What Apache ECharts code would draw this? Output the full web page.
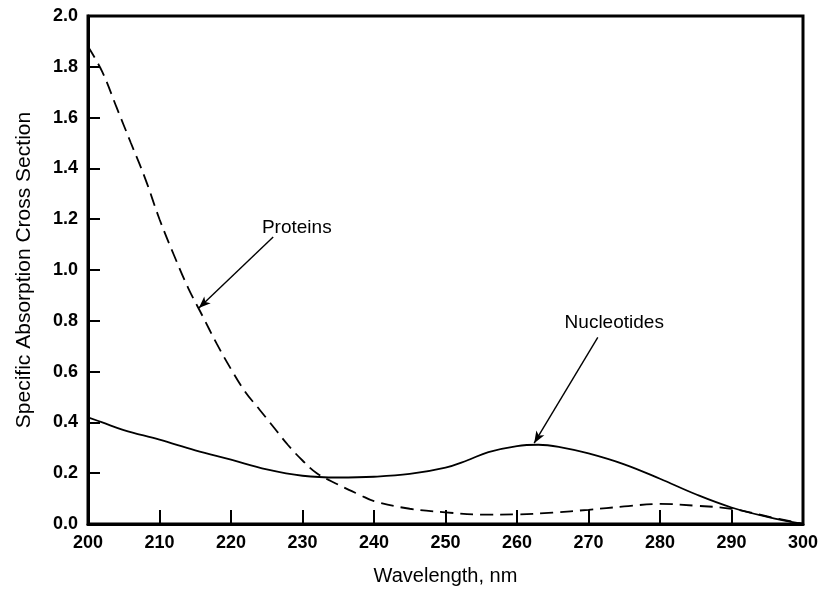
<!DOCTYPE html>
<html>
<head>
<meta charset="utf-8">
<script src="https://cdn.jsdelivr.net/npm/echarts@6/dist/echarts.min.js"></script>
<style>
  html, body { margin: 0; padding: 0; background: #fff; }
  #chart { width: 823px; height: 591px; }
</style>
</head>
<body>
<div id="chart"></div>
<script>
// wavelength (nm) and cross section values
var nucleotideNm = [200, 202, 205, 210, 215, 220, 225, 230, 235, 240, 245, 250, 253, 256, 260, 263, 266, 270, 275, 280, 285, 290, 295, 300]
var nucleotideVal = [0.42, 0.40, 0.37, 0.332, 0.29, 0.253, 0.215, 0.19, 0.183, 0.186, 0.197, 0.222, 0.25, 0.283, 0.307, 0.312, 0.303, 0.278, 0.235, 0.178, 0.117, 0.065, 0.028, 0.0]

var proteinNm = [200, 202, 204, 206, 208, 210, 212, 214, 216, 218, 220, 222, 224, 226, 228, 230, 232, 235, 238, 240, 245, 250, 255, 260, 265, 270, 275, 280, 285, 290, 295, 300]
var proteinVal = [1.88, 1.78, 1.64, 1.50, 1.36, 1.20, 1.06, 0.93, 0.82, 0.71, 0.61, 0.52, 0.45, 0.38, 0.31, 0.25, 0.20, 0.155, 0.115, 0.09, 0.06, 0.046, 0.037, 0.038, 0.045, 0.056, 0.069, 0.079, 0.072, 0.060, 0.030, 0.0]

// annotation arrows: [fromNm, fromVal, toNm, toVal]
var proteinArrow = [225.9, 1.13, 215.5, 0.85]
var nucleotideArrow = [271.3, 0.735, 262.4, 0.318]
var proteinLabel = [229.2, 1.168]
var nucleotideLabel = [273.6, 0.792]

function pairs(xs, ys) {
  return xs.map(function (x, i) { return [x, ys[i]] })
}

var font = 'Liberation Sans, Arial, sans-serif'
var chart = echarts.init(document.getElementById('chart'))

function arrow(a) {
  return {
    silent: true,
    symbol: ['none', 'arrow'],
    symbolSize: [7, 12],
    label: { show: false },
    lineStyle: { color: '#000', width: 1.4, type: 'solid' },
    data: [[{ coord: [a[0], a[1]] }, { coord: [a[2], a[3]] }]]
  }
}

chart.setOption({
  animation: false,
  grid: {
    left: 88,
    right: 20,
    top: 16,
    bottom: 66,
    show: true,
    borderColor: '#000',
    borderWidth: 3
  },
  xAxis: {
    type: 'value',
    min: 200,
    max: 300,
    interval: 10,
    name: 'Wavelength, nm',
    nameLocation: 'middle',
    nameGap: 42,
    nameTextStyle: { color: '#000', fontSize: 20, fontFamily: font },
    axisLine: { lineStyle: { color: '#000', width: 3 } },
    axisTick: { inside: true, length: 14, lineStyle: { color: '#000', width: 2 } },
    axisLabel: { color: '#000', fontSize: 18, fontWeight: 'bold', fontFamily: font, margin: 10 },
    splitLine: { show: false }
  },
  yAxis: {
    type: 'value',
    min: 0,
    max: 2,
    interval: 0.2,
    name: 'Specific Absorption Cross Section',
    nameLocation: 'middle',
    nameGap: 53,
    nameTextStyle: { color: '#000', fontSize: 21, fontFamily: font },
    axisLine: { lineStyle: { color: '#000', width: 3 } },
    axisTick: { inside: true, length: 12, lineStyle: { color: '#000', width: 2 } },
    axisLabel: {
      color: '#000',
      fontSize: 18,
      fontWeight: 'bold',
      fontFamily: font,
      margin: 10,
      formatter: function (v) { return v.toFixed(1) }
    },
    splitLine: { show: false }
  },
  series: [
    {
      name: 'Proteins',
      type: 'line',
      data: pairs(proteinNm, proteinVal),
      smooth: 0.4,
      showSymbol: false,
      lineStyle: { color: '#000', width: 1.8, type: [13, 7] },
      markLine: arrow(proteinArrow)
    },
    {
      name: 'Nucleotides',
      type: 'line',
      data: pairs(nucleotideNm, nucleotideVal),
      smooth: 0.4,
      showSymbol: false,
      lineStyle: { color: '#000', width: 1.8 },
      markLine: arrow(nucleotideArrow)
    }
  ]
})

function labelAt(text, pos) {
  var p = chart.convertToPixel({ gridIndex: 0 }, pos)
  return {
    type: 'text',
    x: p[0],
    y: p[1],
    style: {
      text: text,
      fill: '#000',
      font: '19px ' + font,
      textAlign: 'center',
      textVerticalAlign: 'middle'
    }
  }
}

chart.setOption({
  graphic: [
    labelAt('Proteins', proteinLabel),
    labelAt('Nucleotides', nucleotideLabel)
  ]
})
</script>
</body>
</html>
